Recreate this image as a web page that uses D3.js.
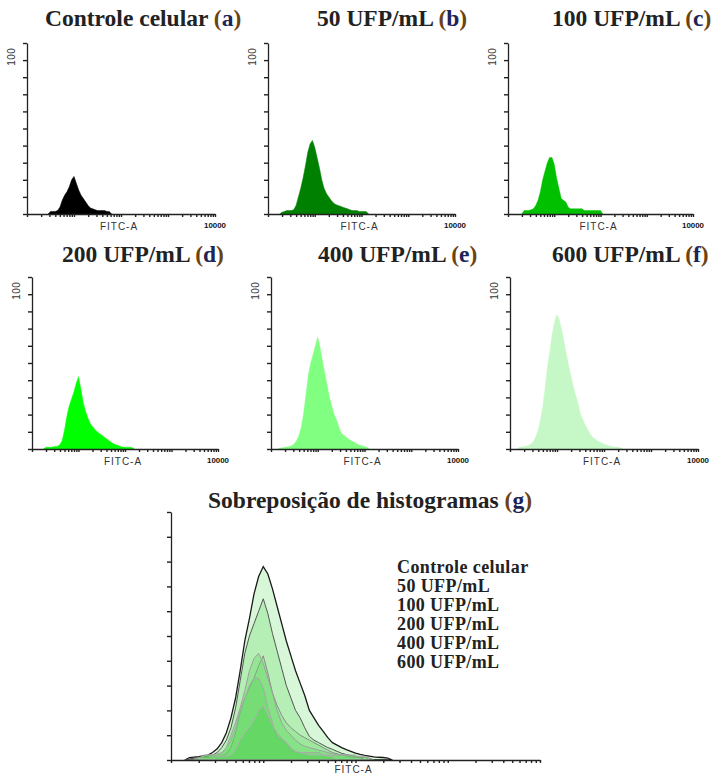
<!DOCTYPE html>
<html>
<head>
<meta charset="utf-8">
<script src="https://cdn.jsdelivr.net/npm/d3@7"></script>
<style>
  body { margin: 0; background: #fff; }
  svg { display: block; }
</style>
</head>
<body>
<div id="chart"></div>
<script>
// --------------------------------------------
// DATA
// --------------------------------------------

// bin centres on the FITC-A axis, as log10 of the channel value
const logBins = [
  0.15, 0.2, 0.25, 0.3, 0.35, 0.4, 0.45, 0.5, 0.55, 0.6, 0.65, 0.7, 0.75, 0.8,
  0.85, 0.9, 0.95, 1.0, 1.05, 1.1, 1.15, 1.2, 1.25, 1.3, 1.35, 1.4, 1.45, 1.5,
  1.55, 1.6, 1.65, 1.7, 1.75, 1.8, 1.85, 1.9, 1.95, 2.0, 2.05, 2.1, 2.15, 2.2,
  2.25, 2.3, 2.35, 2.4,
];

const countsControle = [
  0, 0, 0, 0, 0, 0, 0, 1.5, 1.5, 1.5, 2, 4, 8, 11, 13, 16, 20, 22, 18, 14, 11,
  9, 7, 5, 3.5, 3, 2.5, 2, 2, 2, 2, 1.5, 1.5, 0, 0, 0, 0, 0, 0, 0, 0, 0, 0, 0,
  0, 0,
];
const counts50 = [
  0, 0, 0, 1, 1.5, 2, 2, 2, 2.5, 5, 10, 15, 21, 28, 36, 41, 43, 39, 33, 27, 20,
  15, 12, 10, 8, 6.5, 5.5, 5, 4.5, 4, 3.5, 3, 2.5, 2, 2, 2, 1.5, 1.5, 1.5, 1.5,
  0, 0, 0, 0, 0, 0,
];
const counts100 = [
  0, 0, 0, 0, 2, 2, 2, 2.5, 3, 5, 8, 13, 20, 25, 30, 33, 33, 29, 21, 15, 9, 8,
  7, 4, 3, 3, 3, 3, 3, 3, 2, 2, 2, 2, 2, 2, 2, 2, 0, 0, 0, 0, 0, 0, 0, 0,
];
const counts200 = [
  0, 0, 0, 1, 1, 1, 1.2, 1.4, 1.6, 2.5, 5, 11, 19, 25, 29, 33, 38, 42, 35, 27,
  22, 18, 15, 13, 11.5, 10, 9, 8, 7, 6, 5, 4, 3, 2.5, 2, 1.5, 1.2, 1, 1, 1, 0.8,
  0, 0, 0, 0, 0,
];
const counts400 = [
  0, 0.5, 0.7, 1, 1.2, 1.5, 2, 3, 5, 8, 13, 21, 32, 43, 50, 55, 60, 65, 59, 51,
  44, 37, 30, 25, 20, 17, 13, 9.5, 8, 7, 6, 5, 4.3, 3.5, 2.7, 2.2, 1.8, 1.4, 1,
  0, 0, 0, 0, 0, 0, 0,
];
const counts600 = [
  0, 1, 1.2, 1.4, 1.7, 2, 3, 4.5, 7, 11, 17, 25, 36, 48, 57, 67, 74, 78, 75, 69,
  62, 55, 48, 42, 36, 31, 26, 20, 17, 14, 11.5, 9, 7, 6, 5, 4.2, 3.5, 2.8, 2.3,
  1.9, 1.6, 1.3, 1.1, 1, 0.8, 0,
];

const seriesNames = [
  "Controle celular",
  "50 UFP/mL",
  "100 UFP/mL",
  "200 UFP/mL",
  "400 UFP/mL",
  "600 UFP/mL",
];
const panelLetters = ["a", "b", "c", "d", "e", "f"];
const overlayTitle = "Sobreposição de histogramas";
const overlayLetter = "g";
const xAxisLabel = "FITC-A";
const yTickLabel = "100";
const xMaxLabel = "10000";
const xDomain = [1, 10000];
const yDomain = [0, 100];
const yTicks = [0, 10, 20, 30, 40, 50, 60, 70, 80, 90, 100];

const seriesCounts = [
  countsControle,
  counts50,
  counts100,
  counts200,
  counts400,
  counts600,
];

// --------------------------------------------
// LAYOUT / STYLES
// --------------------------------------------

const panelBoxes = [
  { x0: 27, x1: 215, top: 43, bottom: 214, titleX: 45, titleY: 26 },
  { x0: 268, x1: 455, top: 43, bottom: 214, titleX: 317, titleY: 26 },
  { x0: 508, x1: 693, top: 43, bottom: 214, titleX: 552, titleY: 26 },
  { x0: 32, x1: 218, top: 277, bottom: 449, titleX: 62, titleY: 262 },
  { x0: 271, x1: 458, top: 277, bottom: 449, titleX: 318, titleY: 262 },
  { x0: 510, x1: 698, top: 277, bottom: 449, titleX: 552, titleY: 262 },
];
const overlayBox = { x0: 171, x1: 540, top: 512, bottom: 760, titleX: 208, titleY: 508 };

const panelColors = ["#000000", "#008000", "#00c000", "#00ff00", "#80ff80", "#c6f7c6"];

// back to front drawing order in the overlay, with its own fills
const overlayOrder = [5, 4, 3, 1, 2, 0];
const overlayFills = ["#4fd04f", "#66d866", "#5cd65c", "#7fe07f", "#a8eca8", "#d8f6d8"];
const overlayOpacity = [0.45, 0.4, 0.4, 0.45, 0.7, 1];
const overlayStrokes = ["#b0b0b0", "#a0a0a0", "#a8a8a8", "#8a8a8a", "#555555", "#1a1a1a"];

const ink = "#222";
const serif = "'Liberation Serif', 'Times New Roman', serif";
const sans = "'Liberation Sans', Arial, sans-serif";

const W = 719;
const H = 776;

const svg = d3
  .select("#chart")
  .append("svg")
  .attr("width", W)
  .attr("height", H)
  .attr("viewBox", `0 0 ${W} ${H}`);

// --------------------------------------------
// FONCTIONS
// --------------------------------------------

const makeScales = (box) => ({
  x: d3.scaleLog().domain(xDomain).range([box.x0, box.x1]),
  y: d3.scaleLinear().domain(yDomain).range([box.bottom, box.top]),
});

const trimmed = (counts) => {
  // keep only the non-empty part of a histogram (plus one empty bin each side)
  const first = counts.findIndex((c) => c > 0);
  let last = counts.length - 1;
  while (last > 0 && counts[last] === 0) last--;
  const from = Math.max(0, first - 1);
  const to = Math.min(counts.length - 1, last + 1);
  return d3.range(from, to + 1).map((i) => ({ l: logBins[i], c: counts[i] }));
};

const histArea = (sc) =>
  d3
    .area()
    .curve(d3.curveLinear)
    .x((d) => sc.x(Math.pow(10, d.l)))
    .y0(sc.y(0))
    .y1((d) => sc.y(d.c));

const drawTitle = (g, box, text, letter, size) => {
  const t = g
    .append("text")
    .attr("x", box.titleX)
    .attr("y", box.titleY)
    .attr("font-family", serif)
    .attr("font-weight", "bold")
    .attr("font-size", size)
    .attr("fill", ink);
  t.append("tspan").text(text + " ");
  t.append("tspan").attr("fill", "#6b4212").text("(");
  t.append("tspan").attr("fill", "#1c2458").text(letter);
  t.append("tspan").attr("fill", "#6b4212").text(")");
};

const drawAxes = (g, sc, box, withLabels) => {
  const yAxis = g
    .append("g")
    .attr("transform", `translate(${box.x0},0)`)
    .call(
      d3.axisLeft(sc.y).tickValues(yTicks).tickSize(4).tickSizeOuter(0).tickFormat("")
    );
  const xAxis = g
    .append("g")
    .attr("transform", `translate(0,${box.bottom})`)
    .call(
      d3.axisBottom(sc.x).ticks(10).tickSize(3).tickSizeOuter(0).tickFormat("")
    );
  [yAxis, xAxis].forEach((a) => {
    a.select(".domain").attr("stroke", ink).attr("stroke-width", 1.3);
    a.selectAll(".tick line").attr("stroke", ink).attr("stroke-width", 1.4);
  });

  g.append("text")
    .attr("x", (box.x0 + box.x1) / 2 - 2)
    .attr("y", box.bottom + (withLabels ? 16 : 13))
    .attr("text-anchor", "middle")
    .attr("font-family", sans)
    .attr("font-size", 10)
    .attr("letter-spacing", 1)
    .attr("fill", "#333")
    .text(xAxisLabel);

  if (withLabels) {
    g.append("text")
      .attr(
        "transform",
        `translate(${box.x0 - 12},${sc.y(92)}) rotate(-90)`
      )
      .attr("text-anchor", "middle")
      .attr("font-family", sans)
      .attr("font-size", 10)
      .attr("letter-spacing", 0.5)
      .attr("fill", "#333")
      .text(yTickLabel);

    g.append("text")
      .attr("x", box.x1 - 11)
      .attr("y", box.bottom + 14)
      .attr("font-family", sans)
      .attr("font-weight", "bold")
      .attr("font-size", 7)
      .attr("textLength", 22)
      .attr("lengthAdjust", "spacingAndGlyphs")
      .attr("fill", "#111")
      .text(xMaxLabel);
  }
};

// --------------------------------------------
// SIX PANELS (a)-(f)
// --------------------------------------------

panelBoxes.forEach((box, i) => {
  const g = svg.append("g").attr("class", "panel-" + panelLetters[i]);
  const sc = makeScales(box);

  g.append("path")
    .datum(trimmed(seriesCounts[i]))
    .attr("d", histArea(sc))
    .attr("fill", panelColors[i])
    .attr("stroke", panelColors[i])
    .attr("stroke-width", 0.5);

  drawAxes(g, sc, box, true);
  drawTitle(g, box, seriesNames[i], panelLetters[i], 23.5);
});

// --------------------------------------------
// OVERLAY (g)
// --------------------------------------------

const og = svg.append("g").attr("class", "panel-g");
const osc = makeScales(overlayBox);

overlayOrder.forEach((i) => {
  og.append("path")
    .datum(trimmed(seriesCounts[i]))
    .attr("d", histArea(osc))
    .attr("fill", overlayFills[i])
    .attr("fill-opacity", overlayOpacity[i])
    .attr("stroke", overlayStrokes[i])
    .attr("stroke-width", i === 5 ? 1.3 : 1);
});

drawAxes(og, osc, overlayBox, false);
drawTitle(og, overlayBox, overlayTitle, overlayLetter, 23.5);

og.selectAll(".legend")
  .data(seriesNames)
  .enter()
  .append("text")
  .attr("class", "legend")
  .attr("x", 397)
  .attr("y", (d, i) => 573 + i * 19)
  .attr("font-family", serif)
  .attr("font-weight", "bold")
  .attr("font-size", 18)
  .attr("letter-spacing", 0.4)
  .attr("fill", ink)
  .text((d) => d);
</script>
</body>
</html>
